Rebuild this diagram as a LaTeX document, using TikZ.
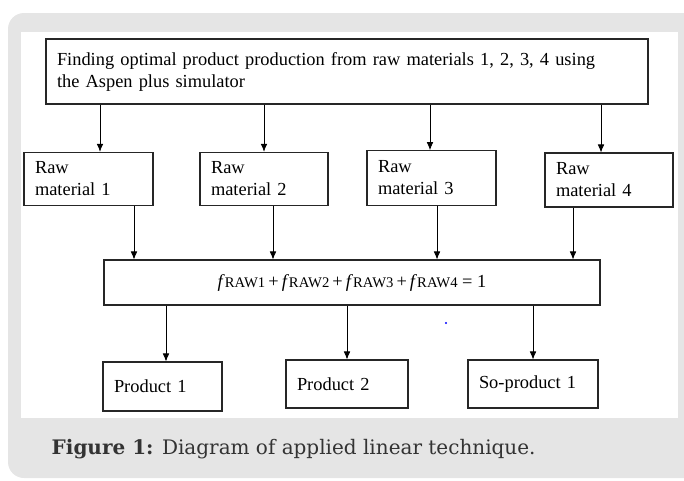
\documentclass[tikz,border=0pt]{standalone}
\usepackage{fontspec}
\newfontfamily\diagfont{Liberation Serif}
\newfontfamily\capfont{DejaVu Serif}
\usepackage{tikz}
\usetikzlibrary{arrows.meta,calc}

\tikzset{
  box/.style={draw=black!85, line width=0.8pt, fill=white, inner xsep=8.25pt, inner ysep=2pt, align=left, font=\diagfont\fontsize{13.8}{16.5}\selectfont},
  arr/.style={-{Latex[length=6pt,width=5pt]}, line width=0.6pt},
}
\newcommand{\fraw}[1]{\textit{f}{\fontsize{11}{13}\selectfont RAW#1}}

\begin{document}
\begin{tikzpicture}[x=0.75pt, y=-0.75pt]
    \useasboundingbox (0,0) rectangle (684,480);
    % Card background
    \fill[black!10, rounded corners=12pt] (8,13) rectangle (720,478);
    \fill[white] (21,32) rectangle (678,418);

    % Task box
    \node[box, text width=435pt, minimum height=48.75pt] (task) at (347,71.5)
        {Finding optimal product production from raw materials 1, 2, 3, 4 using\\the Aspen plus simulator};

    % Raw materials
    \node[box, text width=80.25pt, minimum height=40pt] (raw1) at (88.5,179) {Raw\\material 1};
    \node[box, text width=79.5pt, minimum height=40pt] (raw2) at (264,179) {Raw\\material 2};
    \node[box, text width=80.25pt, minimum height=41pt] (raw3) at (431.5,178) {Raw\\material 3};
    \node[box, text width=79.5pt, minimum height=40.5pt] (raw4) at (609,180) {Raw\\material 4};

    % Fraction balance
    \node[box, align=center, minimum width=372pt, minimum height=33.75pt] (bal) at (352,282.5)
        {\fraw{1}\,+\,\fraw{2}\,+\,\fraw{3}\,+\,\fraw{4} = 1};

    % Products
    \node[box, text width=72.75pt, minimum height=36.75pt] (prod1) at (162.5,386.5) {Product 1};
    \node[box, text width=75pt, minimum height=36pt] (prod2) at (347,384) {Product 2};
    \node[box, text width=81pt, minimum height=36pt] (soprod) at (533,384) {So-product 1};

    % Arrows task -> raw materials
    \draw[arr] ($(task.south)+(-247,0)$) -- ($(raw1.north)+(11.5,0)$);
    \draw[arr] ($(task.south)+(-83,0)$) -- (raw2.north);
    \draw[arr] ($(task.south)+(83,0)$) -- ($(raw3.north)+(-1.5,0)$);
    \draw[arr] ($(task.south)+(254,0)$) -- ($(raw4.north)+(-8,0)$);

    % Arrows raw materials -> balance
    \draw[arr] ($(raw1.south)+(45.5,0)$) -- ($(bal.north)+(-218,0)$);
    \draw[arr] ($(raw2.south)+(9,0)$) -- ($(bal.north)+(-79,0)$);
    \draw[arr] ($(raw3.south)+(5.5,0)$) -- ($(bal.north)+(85,0)$);
    \draw[arr] ($(raw4.south)+(-36,0)$) -- ($(bal.north)+(221,0)$);

    % Arrows balance -> products
    \draw[arr] ($(bal.south)+(-186,0)$) -- ($(prod1.north)+(3.5,0)$);
    \draw[arr] ($(bal.south)+(-5,0)$) -- (prod2.north);
    \draw[arr] ($(bal.south)+(181,0)$) -- (soprod.north);

    \fill[blue] (446,323) circle (0.8pt);

    % Caption
    \node[anchor=base west, text=black!80, font=\capfont\fontsize{15}{18}\selectfont] (caption) at (47,454)
        {\textbf{Figure 1:} Diagram of applied linear technique.};
\end{tikzpicture}
\end{document}
